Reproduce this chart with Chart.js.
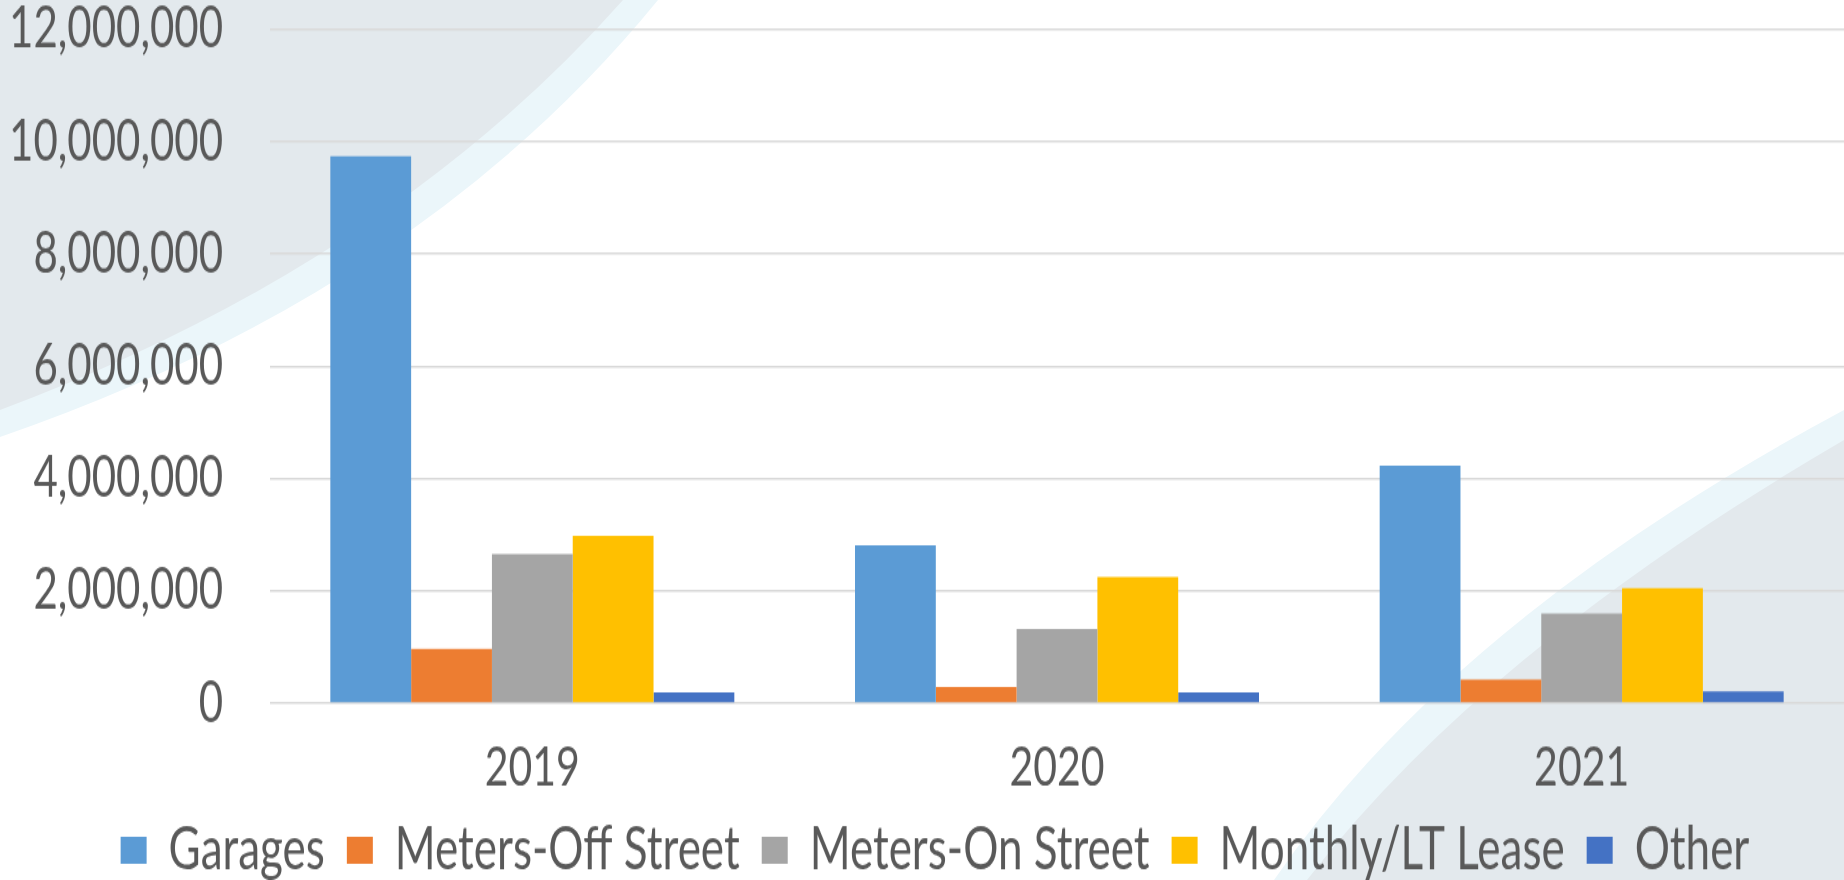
<!DOCTYPE html>
<html>
<head>
<meta charset="utf-8">
<script src="https://cdn.jsdelivr.net/npm/chart.js@4/dist/chart.umd.min.js"></script>
<style>
html,body{margin:0;padding:0;background:#ffffff;overflow:hidden}
#wrap{position:relative;width:1844px;height:880px}
#bg{position:absolute;left:0;top:0}
#c{position:absolute;left:0;top:0}
</style>
</head>
<body>
<div id="wrap">
<svg id="bg" width="1844" height="880" xmlns="http://www.w3.org/2000/svg">
  <path d="M0,0 L658,0 Q420,292 0,437 Z" fill="#ebf6fa"/>
  <path d="M0,0 L623,0 Q388,265 0,410 Z" fill="#e3e9ed"/>
  <path d="M1844,880 L1844,410 Q1452,620 1274,880 Z" fill="#ebf6fa"/>
  <path d="M1844,880 L1844,440 Q1484,650 1307,880 Z" fill="#e3e9ed"/>
</svg>
<canvas id="c" width="1844" height="652" style="width:1844px;height:880px"></canvas>
</div>
<script>
// ---- data ----
const categories = ['2019', '2020', '2021'];
const garages       = [9740000, 2810000, 4230000];
const metersOff     = [970000, 290000, 420000];
const metersOn      = [2655000, 1320000, 1600000];
const monthlyLease  = [2980000, 2245000, 2050000];
const other         = [190000, 190000, 210000];
const seriesNames   = ['Garages', 'Meters-Off Street', 'Meters-On Street', 'Monthly/LT Lease', 'Other'];
const yTickValues   = [0, 2000000, 4000000, 6000000, 8000000, 10000000, 12000000];

const colors = ['#5b9bd5', '#ed7d31', '#a5a5a5', '#ffc000', '#4472c4'];
const seriesData = [garages, metersOff, metersOn, monthlyLease, other];
const FONT = 'Lato, "Open Sans", sans-serif';
const TXT = '#595959';

const legendFitPatch = {
  id: 'legendFitPatch',
  beforeInit(chart) {
    const lg = chart.legend;
    if (lg && !lg._patched) {
      const orig = lg.fit;
      lg.fit = function () { orig.call(this); this.height -= 10; };
      lg._patched = true;
    }
  },
  afterLayout(chart) {
    const lg = chart.legend;
    if (lg) { lg.left += 13; lg.right += 13; }
  }
};

new Chart(document.getElementById('c'), {
  type: 'bar',
  data: {
    labels: categories,
    datasets: seriesData.map((d, i) => ({
      label: seriesNames[i],
      data: d,
      backgroundColor: colors[i],
      borderWidth: 0,
      categoryPercentage: 0.77,
      barPercentage: 1.0
    }))
  },
  options: {
    responsive: false,
    devicePixelRatio: 1,
    animation: false,
    layout: { padding: { top: 0, bottom: 0, left: 0, right: 0 } },
    plugins: {
      tooltip: { enabled: false },
      legend: {
        position: 'bottom',
        labels: {
          boxWidth: 26,
          boxHeight: 20,
          padding: 22,
          color: TXT,
          font: { family: FONT, size: 44, lineHeight: 1.0 }
        }
      }
    },
    scales: {
      x: {
        grid: { display: false },
        border: { display: false },
        ticks: {
          color: TXT,
          padding: 19,
          font: { family: FONT, size: 41, lineHeight: 1.0 }
        },
        afterFit(s) { s.height = 65; }
      },
      y: {
        min: 0,
        max: 12000000,
        afterBuildTicks(s) { s.ticks = yTickValues.map(v => ({ value: v })); },
        grid: { color: '#d9d9d9', lineWidth: 1.5, drawTicks: true, tickLength: 47, tickColor: 'rgba(0,0,0,0)' },
        border: { display: false },
        ticks: {
          color: TXT,
          padding: 0,
          font: { family: FONT, size: 42, lineHeight: 1.04 },
          callback: v => Number(v).toLocaleString('en-US')
        },
        afterFit(s) { s.width = 270; }
      }
    }
  },
  plugins: [legendFitPatch]
});
</script>
</body>
</html>
